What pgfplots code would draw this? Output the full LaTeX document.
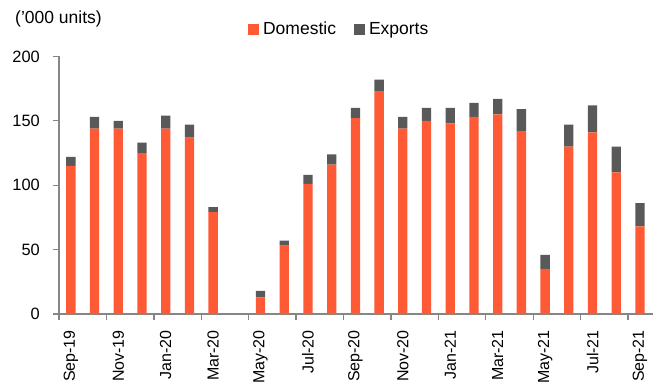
\documentclass[border=0pt]{standalone}
\usepackage{pgfplots}
\pgfplotsset{compat=1.18}
\usepackage{pgfplotstable}
\usepackage{fontspec}
\setmainfont{Liberation Sans}

\definecolor{domcol}{HTML}{FF5A36}
\definecolor{expcol}{HTML}{595959}
\definecolor{axisgray}{HTML}{868686}

% monthly sales, '000 units (month index 0 = Sep-19)
\pgfplotstableread{
x dom exp
0  115 7
1  144 9
2  144 6
3  125 8
4  144 10
5  137 10
6  79  4
7  0   0
8  13  5
9  53  4
10 101 7
11 116 8
12 152 8
13 173 9
14 144 9
15 150 10
16 148 12
17 153 11
18 155 12
19 142 17
20 35  11
21 130 17
22 141 21
23 110 20
24 68  18
}\sales

\begin{document}
\fontsize{16bp}{19bp}\selectfont
\begin{tikzpicture}
\path[use as bounding box] (-59bp,-71bp) rectangle (598bp,314bp);
\begin{axis}[
  name=ax,
  scale only axis,
  width=594bp, height=257.6bp,
  xmin=-0.5, xmax=24.55,
  ymin=0, ymax=200,
  ybar stacked, bar width=9.3bp,
  axis x line*=bottom, axis y line*=left,
  axis line style={axisgray, line width=1.3bp},
  tick style={axisgray, line width=1.3bp},
  tick align=outside,
  major tick length=6bp, minor tick length=6bp,
  xtick={0,2,...,24},
  xticklabels={Sep-19,Nov-19,Jan-20,Mar-20,May-20,Jul-20,Sep-20,Nov-20,Jan-21,Mar-21,May-21,Jul-21,Sep-21},
  major x tick style={draw=none},
  minor xtick={-0.5,1.5,...,23.5},
  ytick={0,50,...,200},
  xticklabel style={rotate=90, anchor=east, inner sep=0pt, font=\fontsize{16bp}{19bp}\selectfont},
  yticklabel style={anchor=east, inner sep=0pt, font=\fontsize{16.4bp}{19bp}\selectfont},
  xticklabel shift=10bp,
  yticklabel shift=13bp,
  /pgf/number format/assume math mode=true,
  legend columns=2,
  legend style={at={(axis description cs:0.318,1)}, anchor=west, yshift=27bp,
    draw=none, fill=none, inner sep=0pt,
    font=\fontsize{17.5bp}{20bp}\selectfont,
    nodes={inner xsep=4bp, inner ysep=0pt},
    /tikz/every even column/.append style={column sep=14bp}},
  legend image code/.code={\fill[#1] (0bp,-5.5bp) rectangle (11bp,5.5bp);},
]
\addplot[fill=domcol, draw=none] table[x=x, y=dom] {\sales};
\addlegendentry{Domestic}
\addplot[fill=expcol, draw=none] table[x=x, y=exp] {\sales};
\addlegendentry{Exports}
\end{axis}
\node[anchor=west, inner sep=0pt, xshift=-44bp, yshift=37bp, font=\fontsize{17.5bp}{20bp}\selectfont] at (ax.north west) {('000 units)};
\end{tikzpicture}
\end{document}
